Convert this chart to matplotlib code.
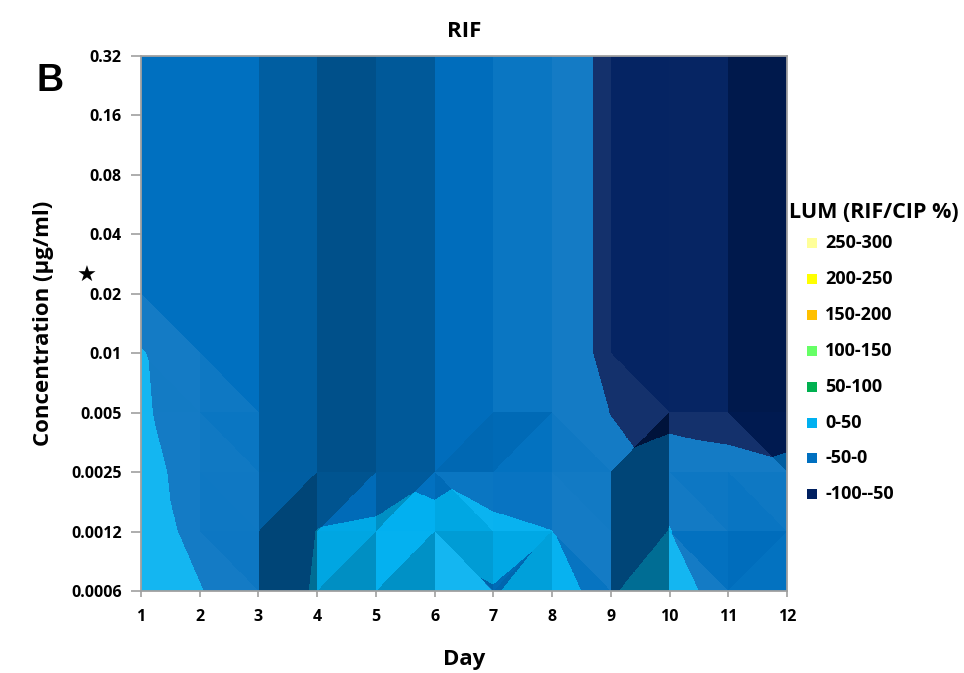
import numpy as np
import matplotlib
matplotlib.use("Agg")
import matplotlib.pyplot as plt
import matplotlib.tri as mtri
from matplotlib.colors import to_rgb
from matplotlib.patches import Rectangle

days = list(range(1, 13))
conc_labels = ["0.0006", "0.0012", "0.0025", "0.005", "0.01",
               "0.02", "0.04", "0.08", "0.16", "0.32"]

# LUM (RIF/CIP %) per concentration, lowest concentration first, days 1..12
lum = [
    [30, 2, -30, 5, 15, 25, -0.6, 4, -4, 25, -25, -30],          # 0.0006
    [20, -12, -30, 1, 4, 2.2, 5, 0.3, -25, 1, -20, -30],         # 0.0012
    [12, -15, -34, -26, -12, -2, -10, -15, -35, -10, -25, -40],   # 0.0025
    [5, -20, -34, -26, -12, -2, -1, -15, -51, -72, -80, -70],    # 0.005
    [3, -33, -34, -26, -12, -2, -1, -15, -65, -72, -80, -70],    # 0.01
    [-32, -33, -34, -26, -12, -2, -1, -15, -65, -72, -80, -70],   # 0.02
    [-32, -33, -34, -26, -12, -2, -1, -15, -65, -72, -80, -70],   # 0.04
    [-32, -33, -34, -26, -12, -2, -1, -15, -65, -72, -80, -70],   # 0.08
    [-32, -33, -34, -26, -12, -2, -1, -15, -65, -72, -80, -70],   # 0.16
    [-32, -33, -34, -26, -12, -2, -1, -15, -65, -72, -80, -70],   # 0.32
]

band_edges = [-100, -50, 0, 50, 100, 150, 200, 250, 300]
band_labels = ["-100--50", "-50-0", "0-50", "50-100", "100-150",
               "150-200", "200-250", "250-300"]
band_colors = ["#002060", "#0070C0", "#00B0F0", "#00B050", "#66FF66",
               "#FFC000", "#FFFF00", "#FFFF99"]

FONT = "Open Sans"

Z = np.array(lum, dtype=float)
ny, nx = Z.shape
X, Y = np.meshgrid(np.array(days, dtype=float), np.arange(ny, dtype=float))
xs, ys, zs = X.ravel(), Y.ravel(), Z.ravel()

# two triangles per grid cell, split along the flatter diagonal
tris = []
for r in range(ny - 1):
    for c in range(nx - 1):
        bl, br = r * nx + c, r * nx + c + 1
        tl, tr = bl + nx, br + nx
        if abs(Z[r + 1, c] - Z[r, c + 1]) <= abs(Z[r, c] - Z[r + 1, c + 1]):
            tris += [[bl, br, tl], [tl, br, tr]]
        else:
            tris += [[bl, br, tr], [bl, tr, tl]]
tris = np.array(tris)
tri = mtri.Triangulation(xs, ys, tris)

# light factor of each facet from its slope (lit surface look)
shade = []
for t in tris:
    A = np.column_stack([xs[t], ys[t], np.ones(3)])
    gx, gy, _ = np.linalg.solve(A, zs[t])
    f = 1.0 - (0.02 if gx > 0 else 0.003) * gx - (0.01 if gy > 0 else 0.0012) * gy
    shade.append(min(max(f, 0.62), 1.08))
shade = np.array(shade)

# sample the surface on a fine grid: band colour times facet light
W, H = 1300, 1100
gxs = np.linspace(1 + 1e-6, 12 - 1e-6, W)
gys = np.linspace(1e-6, ny - 1 - 1e-6, H)
GX, GY = np.meshgrid(gxs, gys)
zi = mtri.LinearTriInterpolator(tri, zs)(GX, GY).filled(0)
ti = tri.get_trifinder()(GX, GY)
band = np.clip(np.digitize(zi, band_edges) - 1, 0, len(band_colors) - 1)
base = np.array([to_rgb(c) for c in band_colors])[band]
f = shade[ti][..., None]
rgb = np.where(f < 1, base * f, base + (1 - base) * (f - 1))

fig = plt.figure(figsize=(9.64, 6.73), dpi=100)
ax = fig.add_axes([0.1463, 0.1218, 0.6701, 0.795])
ax.imshow(rgb, origin="lower", extent=(1, 12, 0, ny - 1), aspect="auto",
          interpolation="nearest")

ax.set_xlim(1, 12)
ax.set_ylim(0, ny - 1)
ax.set_xticks(days)
ax.set_yticks(range(ny))
ax.set_yticklabels(conc_labels)
for s in ax.spines.values():
    s.set_color("#A0A0A0")
    s.set_linewidth(1.3)
ax.tick_params(axis="y", direction="out", length=7, width=1.2, color="#A0A0A0", pad=7)
ax.tick_params(axis="x", direction="out", length=4, width=1.2, color="#A0A0A0", pad=9)
for lab in ax.get_xticklabels() + ax.get_yticklabels():
    lab.set_fontfamily(FONT)
    lab.set_fontweight("bold")
    lab.set_fontsize(11.5)

ax.set_title("RIF", fontfamily=FONT, fontweight="bold", fontsize=16, pad=14)
ax.set_xlabel("Day", fontfamily=FONT, fontweight="bold", fontsize=16, labelpad=17)
ax.set_ylabel("Concentration (µg/ml)", fontfamily=FONT, fontweight="bold",
              fontsize=16, labelpad=12)

fig.text(0.052, 0.88, "B", fontfamily="Liberation Sans", fontweight="bold",
         fontsize=27, ha="center", va="center")
fig.text(0.09, 0.59, "★", fontfamily="DejaVu Sans", fontsize=16,
         ha="center", va="center")

# legend, highest band first
fig.text(789 / 964, 1 - 212 / 673, "LUM (RIF/CIP %)", fontfamily=FONT,
         fontweight="bold", fontsize=15.5, ha="left", va="center")
for i, (lab, col) in enumerate(zip(band_labels[::-1], band_colors[::-1])):
    yc = 243 + 35.9 * i
    fig.patches.append(Rectangle((807 / 964, 1 - (yc + 5) / 673), 10 / 964, 10 / 673,
                                 transform=fig.transFigure, facecolor=col,
                                 edgecolor="none"))
    fig.text(825 / 964, 1 - yc / 673, lab, fontfamily=FONT, fontweight="bold",
             fontsize=13, ha="left", va="center")

fig.savefig("out.png", dpi=100)
